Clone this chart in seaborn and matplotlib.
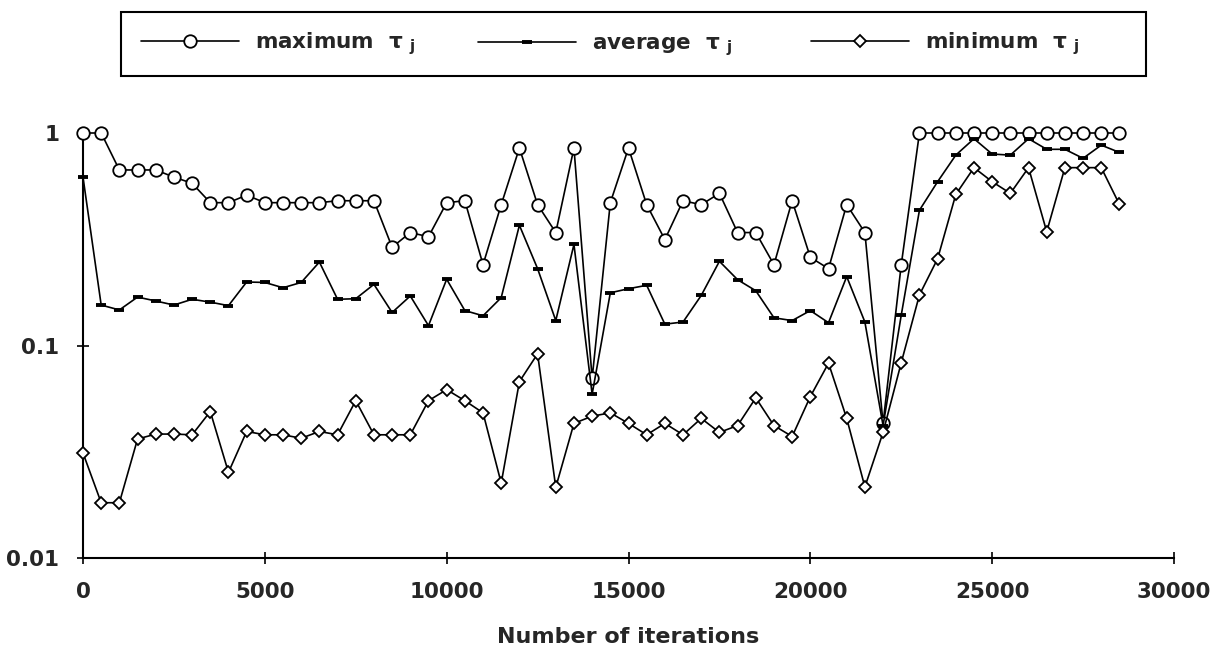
import matplotlib
matplotlib.use("Agg")
import matplotlib.pyplot as plt
from matplotlib.patches import Rectangle
import seaborn as sns

# ---- data ----
iterations = [0, 500, 1000, 1500, 2000, 2500, 3000, 3500, 4000, 4500,
              5000, 5500, 6000, 6500, 7000, 7500, 8000, 8500, 9000, 9500,
              10000, 10500, 11000, 11500, 12000, 12500, 13000, 13500, 14000, 14500,
              15000, 15500, 16000, 16500, 17000, 17500, 18000, 18500, 19000, 19500,
              20000, 20500, 21000, 21500, 22000, 22500, 23000, 23500, 24000, 24500,
              25000, 25500, 26000, 26500, 27000, 27500, 28000, 28500]

max_tau = [1.0, 1.0, 0.67, 0.67, 0.67, 0.62, 0.58, 0.47, 0.47, 0.51,
           0.47, 0.47, 0.47, 0.47, 0.48, 0.48, 0.48, 0.29, 0.34, 0.325,
           0.47, 0.48, 0.24, 0.46, 0.85, 0.46, 0.34, 0.85, 0.07, 0.47,
           0.85, 0.46, 0.315, 0.48, 0.46, 0.52, 0.34, 0.34, 0.24, 0.48,
           0.26, 0.23, 0.46, 0.34, 0.043, 0.24, 1.0, 1.0, 1.0, 1.0,
           1.0, 1.0, 1.0, 1.0, 1.0, 1.0, 1.0, 1.0]

avg_tau = [0.62, 0.155, 0.147, 0.169, 0.162, 0.155, 0.165, 0.160, 0.154, 0.199,
           0.198, 0.187, 0.198, 0.247, 0.165, 0.166, 0.194, 0.143, 0.171, 0.124,
           0.205, 0.146, 0.138, 0.168, 0.368, 0.230, 0.131, 0.299, 0.059, 0.177,
           0.185, 0.192, 0.126, 0.129, 0.172, 0.249, 0.204, 0.181, 0.135, 0.131,
           0.146, 0.128, 0.211, 0.129, 0.042, 0.139, 0.433, 0.59, 0.787, 0.94,
           0.796, 0.787, 0.94, 0.838, 0.838, 0.76, 0.877, 0.81]

min_tau = [0.0312, 0.0182, 0.0182, 0.0363, 0.0383, 0.0383, 0.038, 0.0489, 0.0253, 0.0394,
           0.038, 0.038, 0.0366, 0.0394, 0.038, 0.055, 0.038, 0.038, 0.038, 0.055,
           0.062, 0.055, 0.0482, 0.0225, 0.0676, 0.0914, 0.0215, 0.043, 0.0465, 0.0482,
           0.043, 0.038, 0.043, 0.038, 0.0454, 0.039, 0.042, 0.0567, 0.042, 0.0373,
           0.0575, 0.0826, 0.0454, 0.0216, 0.039, 0.083, 0.173, 0.256, 0.514, 0.687,
           0.59, 0.52, 0.687, 0.343, 0.687, 0.687, 0.687, 0.461]

x_ticks = [0, 5000, 10000, 15000, 20000, 25000, 30000]
x_tick_labels = ["0", "5000", "10000", "15000", "20000", "25000", "30000"]
y_ticks = [0.01, 0.1, 1]
y_tick_labels = ["0.01", "0.1", "1"]
series_labels = [r"maximum  τ $_{\mathbf{j}}$",
                 r"average  τ $_{\mathbf{j}}$",
                 r"minimum  τ $_{\mathbf{j}}$"]
x_label = "Number of iterations"

# ---- style ----
sns.set_style("ticks")
plt.rcParams["font.family"] = ["DejaVu Sans"]
plt.rcParams["font.weight"] = "bold"
plt.rcParams["mathtext.fontset"] = "dejavusans"

W, H = 1223, 656
fig = plt.figure(figsize=(W / 100, H / 100), dpi=100)
ax = fig.add_axes([83 / W, 1 - 558 / H, (1174 - 83) / W, (558 - 133) / H])

lw = 1.2
sns.lineplot(x=iterations, y=max_tau, ax=ax, color="black", linewidth=lw,
             marker="o", markersize=9, markerfacecolor="white",
             markeredgecolor="black", markeredgewidth=1.3,
             label=series_labels[0], clip_on=False, zorder=3)
sns.lineplot(x=iterations, y=avg_tau, ax=ax, color="black", linewidth=lw,
             marker="_", markersize=7, markeredgewidth=2.8,
             markeredgecolor="black",
             label=series_labels[1], clip_on=False, zorder=3)
sns.lineplot(x=iterations, y=min_tau, ax=ax, color="black", linewidth=lw,
             marker="D", markersize=6.2, markerfacecolor="white",
             markeredgecolor="black", markeredgewidth=1.3,
             label=series_labels[2], clip_on=False, zorder=3)

ax.set_yscale("log")
ax.set_xlim(0, 30000)
ax.set_ylim(0.01, 1)
ax.minorticks_off()
ax.set_xticks(x_ticks)
ax.set_xticklabels(x_tick_labels)
ax.set_yticks(y_ticks)
ax.set_yticklabels(y_tick_labels)
ax.tick_params(axis="both", direction="inout", length=8, width=1.2,
               labelsize=15.5, color="black", pad=13)
for lab in ax.get_xticklabels() + ax.get_yticklabels():
    lab.set_fontweight("bold")
ax.set_xlabel(x_label, fontsize=16, fontweight="bold", labelpad=18)
ax.set_ylabel("")

for s in ["top", "right"]:
    ax.spines[s].set_visible(False)
for s in ["left", "bottom"]:
    ax.spines[s].set_linewidth(1.5)
    ax.spines[s].set_color("black")

handles, labels = ax.get_legend_handles_labels()
ax.get_legend().remove()

# legend frame box
fig.patches.append(Rectangle((121 / W, 1 - 76 / H), (1146 - 121) / W, 64 / H,
                             transform=fig.transFigure, facecolor="white",
                             edgecolor="black", linewidth=1.5, zorder=0))
# three equal-width legend cells (same baseline)
cell_x = [141, 478, 811]
cell_y = [44, 46, 44]
for h, l, cx, cy in zip(handles, labels, cell_x, cell_y):
    fig.legend([h], [l], loc="center left",
               bbox_to_anchor=(cx / W, 1 - cy / H),
               frameon=False, borderaxespad=0, borderpad=0,
               handlelength=4.55, handletextpad=0.75, fontsize=15.5)

fig.savefig("out.png", dpi=100)
